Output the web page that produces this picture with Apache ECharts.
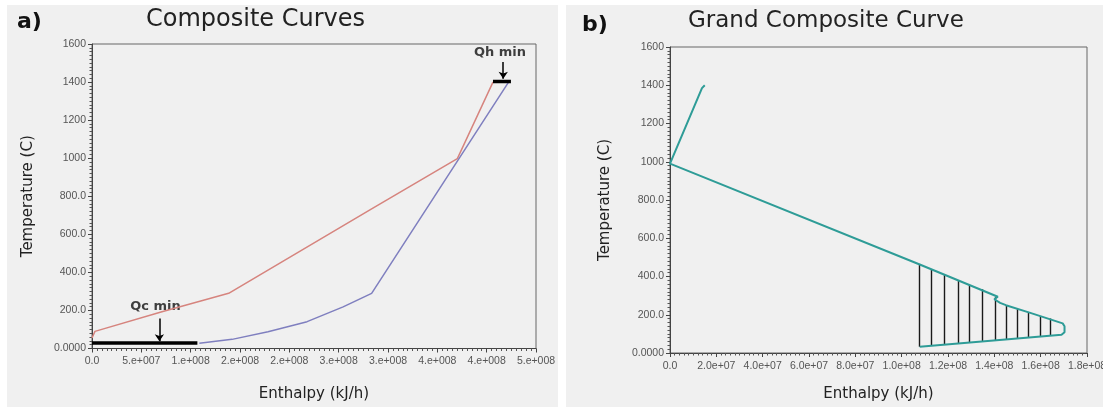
<!DOCTYPE html>
<html>
<head>
<meta charset="utf-8">
<title>Composite Curves</title>
<script src="https://cdn.jsdelivr.net/npm/echarts/dist/echarts.min.js"></script>
<style>
	html, body { margin: 0; padding: 0; background: #fff; }
	#main { width: 1103px; height: 410px; }
</style>
</head>
<body>
<div id="main"></div>
<script>
	// a) composite curves (enthalpy kJ/h, temperature C)
	var hotH = [0, 3e6, 7e7, 1.385e8, 2.834e8, 3.703e8, 4.064e8];
	var hotT = [55, 90, 192, 290, 734, 998, 1400];
	var coldH = [1.088e8, 1.42e8, 1.784e8, 2.18e8, 2.545e8, 2.834e8, 4.222e8];
	var coldT = [27, 48, 88, 141, 219, 290, 1400];
	var qcH = [0, 1.068e8], qcT = [29, 29];
	var qhH = [4.064e8, 4.246e8], qhT = [1403, 1403];
	var qcArrowH = 6.83e7, qcArrowT = [158, 38];
	var qhArrowH = 4.168e8, qhArrowT = [1505, 1418];
	var qcLabel = [6.43e7, 219], qhLabel = [4.135e8, 1557];

	// b) grand composite curve
	var gccH = [1.5e7, 1.38e7, 0, 1.078e8, 1.415e8, 1.40e8, 1.425e8, 1.45e8, 1.552e8, 1.695e8, 1.703e8, 1.703e8, 1.69e8, 1.078e8];
	var gccT = [1400, 1385, 990, 463, 294, 281, 262, 250, 211, 155, 140, 108, 95, 33];
	var hatchH = [1.078e8, 1.128e8, 1.185e8, 1.243e8, 1.293e8, 1.348e8, 1.404e8, 1.451e8, 1.499e8, 1.547e8, 1.598e8, 1.641e8];
	var hatchTop = [463, 439, 408, 381, 355, 333, 291, 251, 230, 211, 193, 181];
	var hatchBot = [33, 38, 42, 47, 54, 59, 68, 71, 77, 80, 85, 89];

	// tick labels
	var xTicksA = ['0.0', '5.e+007', '1.e+008', '2.e+008', '2.e+008', '3.e+008', '3.e+008', '4.e+008', '4.e+008', '5.e+008'];
	var xTicksB = ['0.0', '2.0e+07', '4.0e+07', '6.0e+07', '8.0e+07', '1.0e+08', '1.2e+08', '1.4e+08', '1.6e+08', '1.8e+08'];
	var yTicks = ['0.0000', '200.0', '400.0', '600.0', '800.0', '1000', '1200', '1400', '1600'];

	var FONT = 'DejaVu Sans';
	var TICKFONT = 'Liberation Sans';

	function pairs(xs, ys) {
		var out = [];
		for (var i = 0; i < xs.length; i++) out.push([xs[i], ys[i]]);
		return out;
	}

	function xAxisCfg(idx, max, step, ticks) {
		return {
			gridIndex: idx, type: 'value', min: 0, max: max, interval: step,
			name: 'Enthalpy (kJ/h)', nameLocation: 'middle', nameGap: idx == 0 ? 38 : 34,
			nameTextStyle: { fontFamily: FONT, fontSize: 15, color: '#222' },
			axisLine: { onZero: false, lineStyle: { color: '#444', width: 1 } },
			axisTick: { inside: false, length: 4, lineStyle: { color: '#444' } },
			minorTick: { show: true, splitNumber: 10, length: 2.5, lineStyle: { color: '#555' } },
			splitLine: { show: false },
			axisLabel: {
				fontFamily: TICKFONT, fontSize: 10.5, color: '#555', margin: idx == 0 ? 7 : 8,
				formatter: function (v, i) { return ticks[Math.round(v / step)]; }
			}
		};
	}

	function yAxisCfg(idx) {
		return {
			gridIndex: idx, type: 'value', min: 0, max: 1600, interval: 200,
			name: 'Temperature (C)', nameLocation: 'middle', nameRotate: 90, nameGap: idx == 0 ? 56 : 57,
			nameTextStyle: { fontFamily: FONT, fontSize: 15, color: '#222' },
			axisLine: { onZero: false, lineStyle: { color: '#444', width: 1 } },
			axisTick: { inside: false, length: 4, lineStyle: { color: '#444' } },
			minorTick: { show: true, splitNumber: 10, length: 2.5, lineStyle: { color: '#555' } },
			splitLine: { show: false },
			axisLabel: {
				fontFamily: TICKFONT, fontSize: 10.5, color: '#555', margin: 6,
				formatter: function (v) { return yTicks[Math.round(v / 200)]; }
			}
		};
	}

	var hatchData = [];
	for (var i = 0; i < hatchH.length; i++) {
		hatchData.push({ coords: [[hatchH[i], hatchTop[i]], [hatchH[i], hatchBot[i]]] });
	}

	var option = {
		animation: false,
		backgroundColor: '#fff',
		textStyle: { fontFamily: FONT },
		graphic: [
			{ type: 'rect', shape: { x: 7, y: 5, width: 551, height: 402 }, style: { fill: '#f0f0f0' }, z: -10 },
			{ type: 'rect', shape: { x: 566, y: 5, width: 537, height: 402 }, style: { fill: '#f0f0f0' }, z: -10 },
			{ type: 'text', left: 17, top: 11, style: { text: 'a)', font: 'bold 22px "DejaVu Sans"', fill: '#111' } },
			{ type: 'text', left: 582, top: 14, style: { text: 'b)', font: 'bold 22px "DejaVu Sans"', fill: '#111' } },
			{ type: 'text', left: 146, top: 8, style: { text: 'Composite Curves', font: '24px "DejaVu Sans"', fill: '#222' } },
			{ type: 'text', left: 688, top: 10, style: { text: 'Grand Composite Curve', font: '23px "DejaVu Sans"', fill: '#222' } }
		],
		grid: [
			{ left: 92, top: 44, width: 444, height: 304.5, outerBoundsMode: 'none', containLabel: false,
				show: true, borderColor: '#666', borderWidth: 1, backgroundColor: 'transparent' },
			{ left: 670, top: 47, width: 417, height: 306, outerBoundsMode: 'none', containLabel: false,
				show: true, borderColor: '#666', borderWidth: 1, backgroundColor: 'transparent' }
		],
		xAxis: [xAxisCfg(0, 4.5e8, 5e7, xTicksA), xAxisCfg(1, 1.8e8, 2e7, xTicksB)],
		yAxis: [yAxisCfg(0), yAxisCfg(1)],
		series: [
			{ type: 'line', xAxisIndex: 0, yAxisIndex: 0, data: pairs(hotH, hotT), symbol: 'none',
				lineStyle: { color: '#d6847e', width: 1.5 } },
			{ type: 'line', xAxisIndex: 0, yAxisIndex: 0, data: pairs(coldH, coldT), symbol: 'none',
				lineStyle: { color: '#7f7fbf', width: 1.5 } },
			{ type: 'line', xAxisIndex: 0, yAxisIndex: 0, data: pairs(qcH, qcT), symbol: 'none',
				lineStyle: { color: '#000', width: 3.5 } },
			{ type: 'line', xAxisIndex: 0, yAxisIndex: 0, data: pairs(qhH, qhT), symbol: 'none',
				lineStyle: { color: '#000', width: 3.5 } },
			{ type: 'lines', coordinateSystem: 'cartesian2d', xAxisIndex: 0, yAxisIndex: 0,
				symbol: ['none', 'arrow'], symbolSize: 7,
				lineStyle: { color: '#000', width: 1.5, opacity: 1 },
				data: [
					{ coords: [[qcArrowH, qcArrowT[0]], [qcArrowH, qcArrowT[1]]] },
					{ coords: [[qhArrowH, qhArrowT[0]], [qhArrowH, qhArrowT[1]]] }
				] },
			{ type: 'scatter', xAxisIndex: 0, yAxisIndex: 0, symbolSize: 0,
				label: { show: true, position: 'inside', fontFamily: FONT, fontWeight: 'bold', fontSize: 13, color: '#111',
					formatter: function (p) { return p.name; } },
				data: [
					{ name: 'Qc min', value: qcLabel },
					{ name: 'Qh min', value: qhLabel }
				] },
			{ type: 'lines', coordinateSystem: 'cartesian2d', xAxisIndex: 1, yAxisIndex: 1,
				lineStyle: { color: '#1a1a1a', width: 1.4, opacity: 1 },
				data: hatchData },
			{ type: 'line', xAxisIndex: 1, yAxisIndex: 1, data: pairs(gccH, gccT), symbol: 'none',
				lineStyle: { color: '#2e9c97', width: 2 } }
		]
	};

	var chart = echarts.init(document.getElementById('main'));
	chart.setOption(option);
</script>
</body>
</html>
